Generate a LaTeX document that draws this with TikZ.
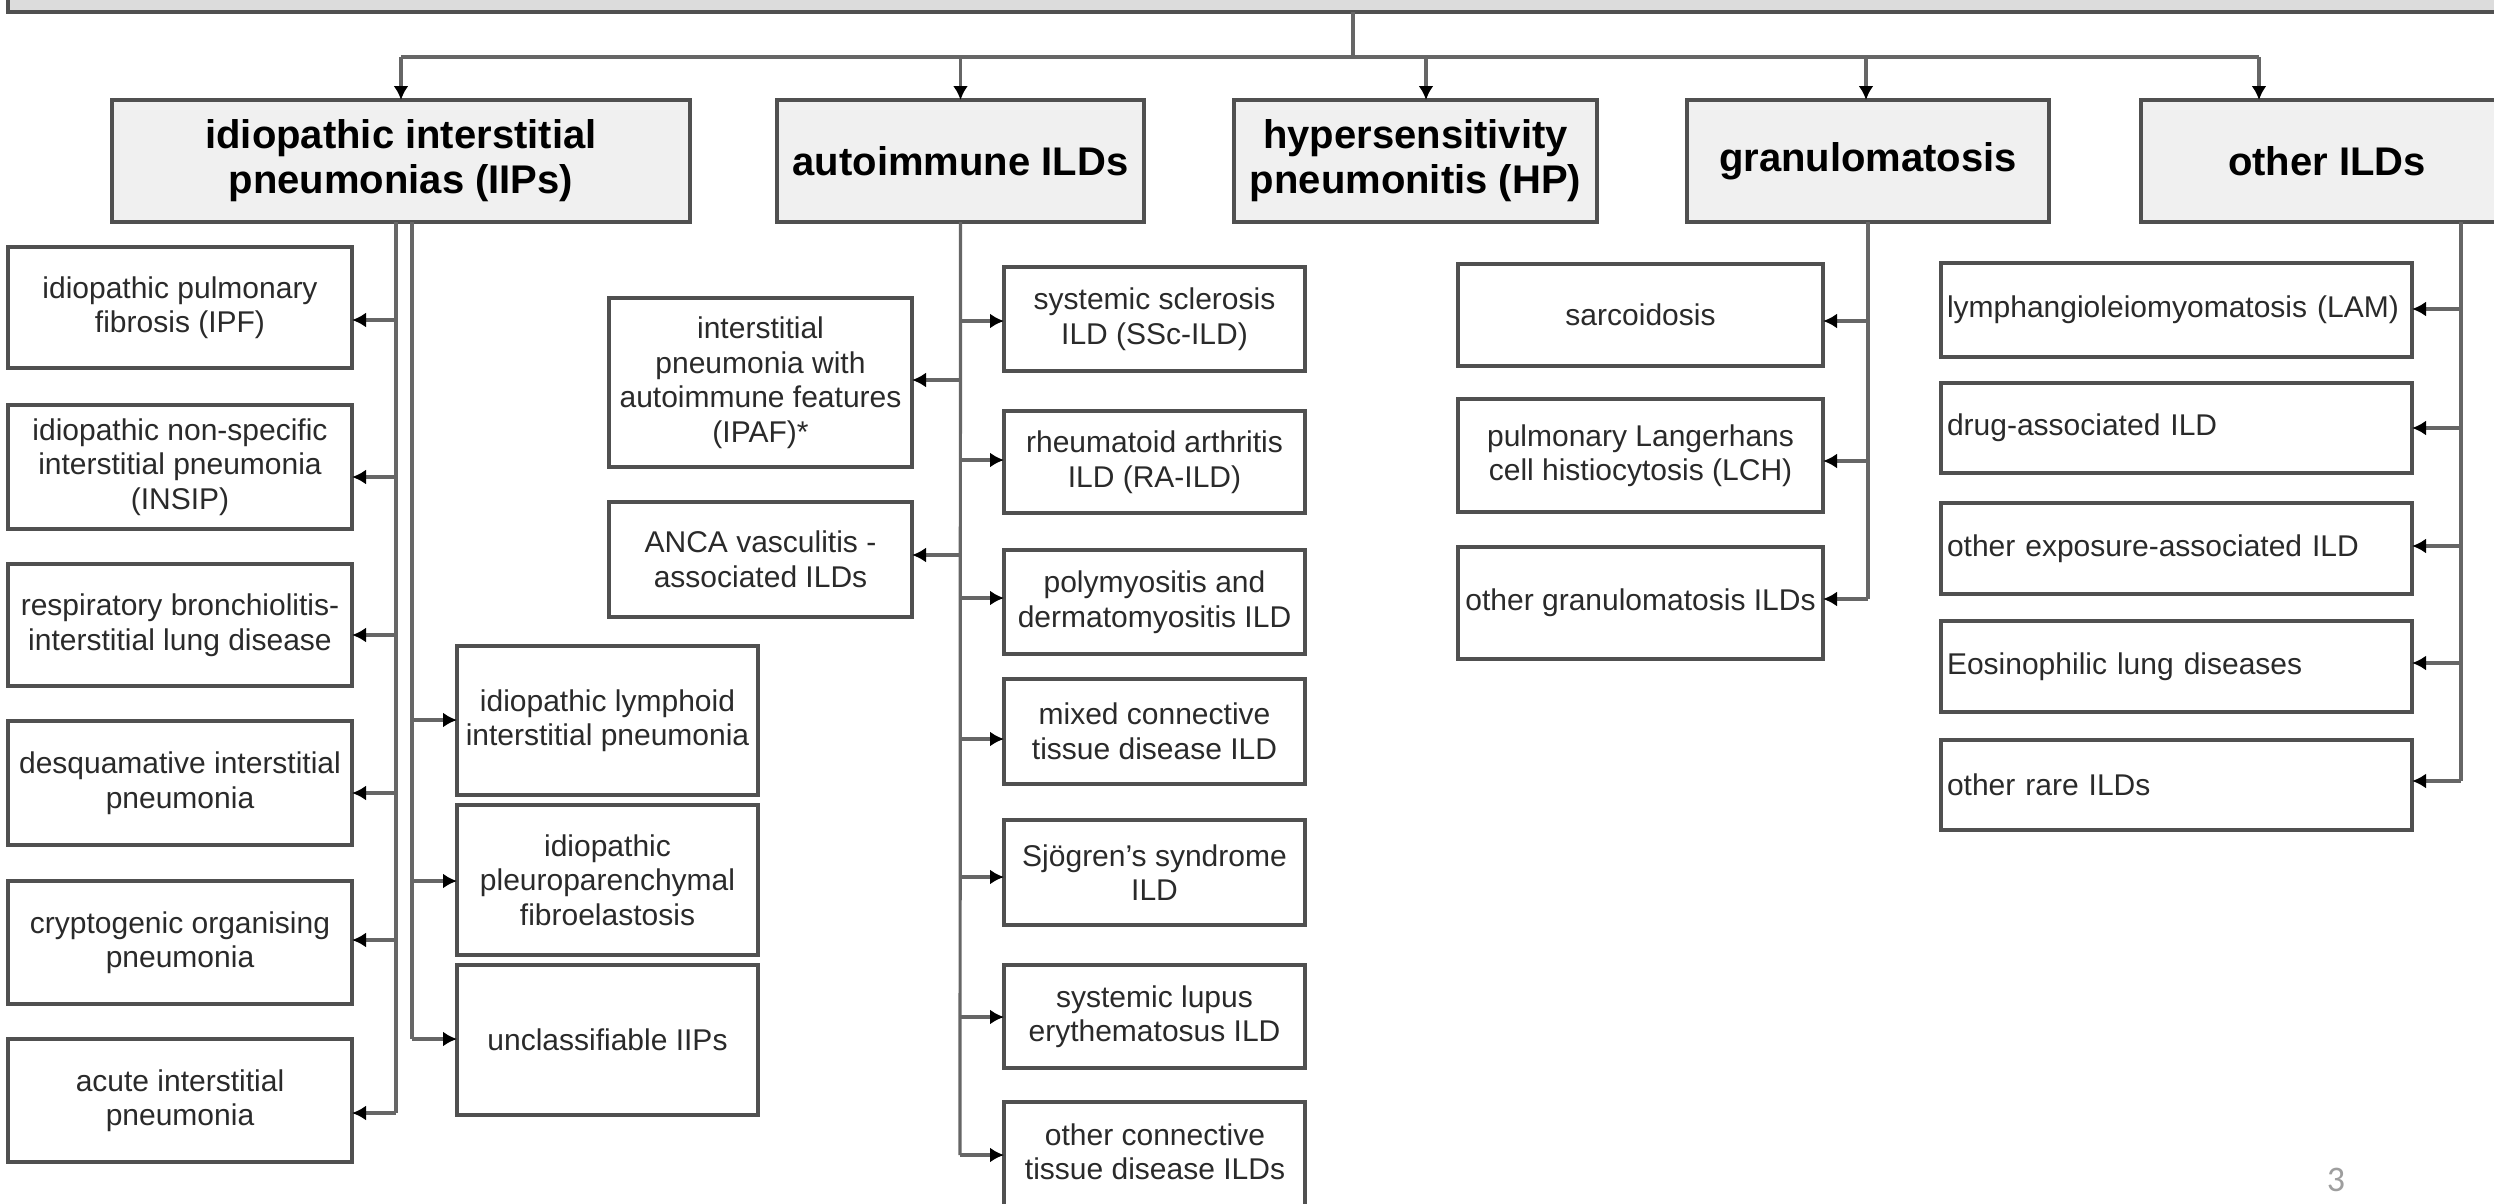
\documentclass[tikz,border=0pt]{standalone}
\usepackage{fontspec}
\setmainfont{Liberation Sans}
\newfontfamily\pagenumfont{Carlito}
\usetikzlibrary{arrows.meta}
\definecolor{edge}{HTML}{505050}
\definecolor{wire}{HTML}{666666}
\definecolor{headfill}{HTML}{F0F0F0}
\definecolor{barfill}{HTML}{DCDCDC}
\definecolor{ink}{HTML}{2A2A2A}
\begin{document}
\begin{tikzpicture}[x=1pt,y=-1pt,
  every node/.style={inner sep=0pt, outer sep=0pt},
  boxbase/.style={draw=edge, line width=3.5pt, rectangle, anchor=north west, align=center},
  bar/.style={boxbase, fill=barfill, anchor=south west},
  head/.style={boxbase, fill=headfill, text=black,
    font=\fontsize{40}{45}\selectfont\bfseries},
  leaf/.style={boxbase, fill=white, text=ink,
    font=\fontsize{30}{34.5}\selectfont},
  leftleaf/.style={leaf, align=left, text width=459pt},
  txt/.style={align=center, text=ink, font=\fontsize{30}{34.5}\selectfont},
  wireline/.style={draw=wire, line width=3.2pt},
  arr/.style={wireline, -{Latex[length=14pt,width=15pt,color=black]}}
]
\useasboundingbox (0,0) rectangle (2494,1203);

% top-level bar (runs off the page)
\node[bar, minimum width=2600pt, minimum height=80pt] (top) at (8,12) {};

% main categories
\node[head, minimum width=578pt, minimum height=122pt] (iip)  at (112,100)
  {idiopathic interstitial\\pneumonias (IIPs)};
\node[head, minimum width=367pt, minimum height=122pt] (auto) at (777,100)
  {autoimmune ILDs};
\node[head, minimum width=363pt, minimum height=122pt] (hp)   at (1234,100)
  {hypersensitivity\\pneumonitis (HP)};
\node[head, minimum width=362pt, minimum height=122pt] (gran) at (1687,100)
  {granulomatosis};
\node[head, minimum width=372pt, minimum height=122pt] (oth)  at (2141,100)
  {other ILDs};

% bus from the top bar to the categories
\coordinate (hub)  at (1353,57);
\coordinate (busL) at (401,57);
\coordinate (busR) at (2259,57);
\coordinate (tHP)  at (1426,57);
\coordinate (tGR)  at (1866,57);
\draw[wireline] (top.south -| hub) -- (hub);
\draw[wireline] (busL) -- (busR);
\draw[arr] (busL) -- (iip.north -| busL);
\draw[arr] (auto.north |- hub) -- (auto.north);
\draw[arr] (tHP) -- (hp.north -| tHP);
\draw[arr] (tGR) -- (gran.north -| tGR);
\draw[arr] (busR) -- (oth.north -| busR);

% idiopathic interstitial pneumonias: left column
\node[leaf, minimum width=344pt, minimum height=121pt] (ipf)   at (8,247)
  {idiopathic pulmonary\\fibrosis (IPF)};
\node[leaf, minimum width=344pt, minimum height=124pt] (insip) at (8,405)
  {idiopathic non-specific\\interstitial pneumonia\\(INSIP)};
\node[leaf, minimum width=344pt, minimum height=122pt] (rbild) at (8,564)
  {respiratory bronchiolitis-\\interstitial lung disease};
\node[leaf, minimum width=344pt, minimum height=124pt] (dip)   at (8,721)
  {desquamative interstitial\\pneumonia};
\node[leaf, minimum width=344pt, minimum height=123pt] (cop)   at (8,881)
  {cryptogenic organising\\pneumonia};
\node[leaf, minimum width=344pt, minimum height=123pt] (aip)   at (8,1039)
  {acute interstitial\\pneumonia};

% idiopathic interstitial pneumonias: right column
\node[leaf, minimum width=301pt, minimum height=149pt] (lip)  at (457,646)
  {idiopathic lymphoid\\interstitial pneumonia};
\node[leaf, minimum width=301pt, minimum height=150pt] (ppfe) at (457,805)
  {idiopathic\\pleuroparenchymal\\fibroelastosis};
\node[leaf, minimum width=301pt, minimum height=150pt] (uip)  at (457,965)
  {unclassifiable IIPs};

\coordinate (k-ipf)   at (396,320);
\coordinate (k-insip) at (396,477);
\coordinate (k-rbild) at (396,635);
\coordinate (k-dip)   at (396,793);
\coordinate (k-cop)   at (396,940);
\coordinate (k-aip)   at (396,1113);
\draw[wireline] (iip.south -| k-aip) -- (k-aip);
\foreach \c in {ipf,insip,rbild,dip,cop,aip}
  \draw[arr] (k-\c) -- (k-\c -| \c.east);

\coordinate (k-lip)  at (412,720);
\coordinate (k-ppfe) at (412,881);
\coordinate (k-uip)  at (412,1039);
\draw[wireline] (iip.south -| k-uip) -- (k-uip);
\foreach \c in {lip,ppfe,uip}
  \draw[arr] (k-\c) -- (k-\c -| \c.west);

% autoimmune ILDs
\node[leaf, minimum width=303pt, minimum height=169pt] (ipaf) at (609,298)
  {interstitial\\pneumonia with\\autoimmune features\\(IPAF)*};
\node[leaf, minimum width=303pt, minimum height=115pt] (anca) at (609,502)
  {ANCA vasculitis -\\associated ILDs};
\node[leaf, minimum width=301pt, minimum height=104pt] (ssc)  at (1004,267)
  {systemic sclerosis\\ILD (SSc-ILD)};
\node[leaf, minimum width=301pt, minimum height=102pt] (ra)   at (1004,411)
  {rheumatoid arthritis\\ILD (RA-ILD)};
\node[leaf, minimum width=301pt, minimum height=104pt] (pmdm) at (1004,550)
  {polymyositis and\\dermatomyositis ILD};
\node[leaf, minimum width=301pt, minimum height=105pt] (mctd) at (1004,679)
  {mixed connective\\tissue disease ILD};
\node[leaf, minimum width=301pt, minimum height=105pt] (ss)   at (1004,820)
  {Sjögren’s syndrome\\ILD};
\node[leaf, minimum width=301pt, minimum height=103pt] (sle)  at (1004,965)
  {systemic lupus\\erythematosus ILD};
\node[leaf, minimum width=301pt, minimum height=140pt] (octd) at (1004,1102) {};
\node[txt] (octd-text) at (1155,1152) {other connective\\tissue disease ILDs};

\coordinate (k-ipaf) at (960,380);
\coordinate (k-anca) at (960,555);
\coordinate (k-ssc)  at (960,321);
\coordinate (k-ra)   at (960,460);
\coordinate (k-pmdm) at (960,598);
\coordinate (k-mctd) at (960,739);
\coordinate (k-ss)   at (960,877);
\coordinate (k-sle)  at (960,1017);
\coordinate (k-octd) at (960,1155);
\draw[wireline] (auto.south) -- (k-octd);
\foreach \c in {ipaf,anca}
  \draw[arr] (k-\c) -- (k-\c -| \c.east);
\foreach \c in {ssc,ra,pmdm,mctd,ss,sle,octd}
  \draw[arr] (k-\c) -- (k-\c -| \c.west);

% granulomatosis
\node[leaf, minimum width=365pt, minimum height=102pt] (sarc)  at (1458,264)
  {sarcoidosis};
\node[leaf, minimum width=365pt, minimum height=113pt] (plch)  at (1458,399)
  {pulmonary Langerhans\\cell histiocytosis (LCH)};
\node[leaf, minimum width=365pt, minimum height=112pt] (ogran) at (1458,547)
  {other granulomatosis ILDs};

\coordinate (k-sarc)  at (1868,321);
\coordinate (k-plch)  at (1868,461);
\coordinate (k-ogran) at (1868,599);
\draw[wireline] (gran.south -| k-ogran) -- (k-ogran);
\foreach \c in {sarc,plch,ogran}
  \draw[arr] (k-\c) -- (k-\c -| \c.east);

% other ILDs
\node[leftleaf, minimum width=471pt, minimum height=94pt] (lam)  at (1941,263)
  {lymphangioleiomyomatosis (LAM)};
\node[leftleaf, minimum width=471pt, minimum height=90pt] (drug) at (1941,383)
  {drug-associated ILD};
\node[leftleaf, minimum width=471pt, minimum height=91pt] (oexp) at (1941,503)
  {other exposure-associated ILD};
\node[leftleaf, minimum width=471pt, minimum height=91pt] (eos)  at (1941,621)
  {Eosinophilic lung diseases};
\node[leftleaf, minimum width=471pt, minimum height=90pt] (rare) at (1941,740)
  {other rare ILDs};

\coordinate (k-lam)  at (2461,309);
\coordinate (k-drug) at (2461,428);
\coordinate (k-oexp) at (2461,546);
\coordinate (k-eos)  at (2461,663);
\coordinate (k-rare) at (2461,781);
\draw[wireline] (oth.south -| k-rare) -- (k-rare);
\foreach \c in {lam,drug,oexp,eos,rare}
  \draw[arr] (k-\c) -- (k-\c -| \c.east);

% page number
\node[anchor=north, text=black!38, font=\pagenumfont\fontsize{36}{36}\selectfont]
  (pagenum) at (2336,1168) {3};
\end{tikzpicture}
\end{document}
